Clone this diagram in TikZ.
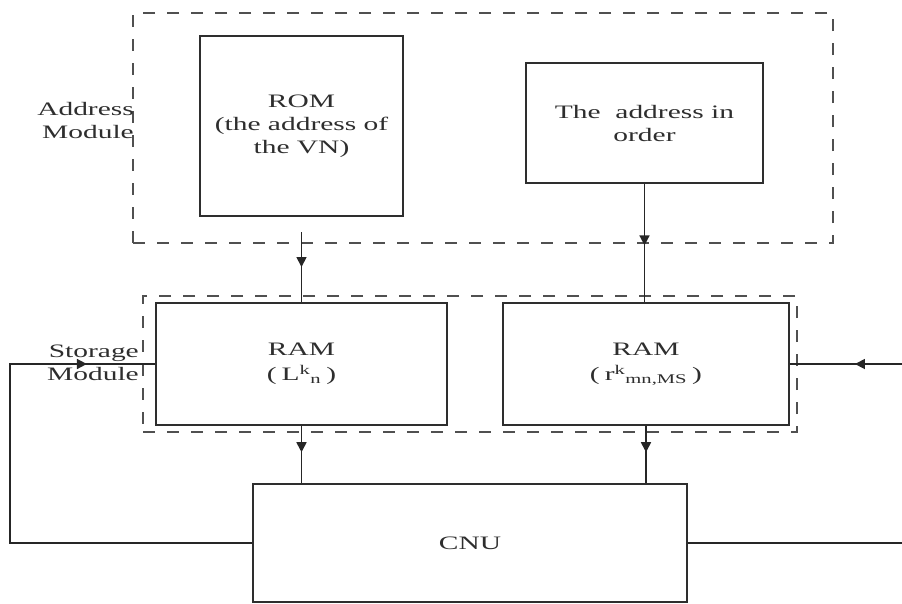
\documentclass[tikz,border=0pt]{standalone}
\usepackage{fontspec}
\setmainfont{Liberation Serif}[FakeStretch=1.55]
\usetikzlibrary{arrows.meta,decorations.markings}

\definecolor{ink}{HTML}{2E2E2E}
\definecolor{dashgray}{HTML}{505050}

\tikzset{
  block/.style={draw=ink, line width=1.9pt, fill=white, inner sep=0pt,
    align=center, text=ink, font=\fontsize{19}{23}\selectfont},
  group/.style={draw=dashgray, line width=2pt, dash pattern=on 12pt off 12pt,
    inner sep=0pt},
  wire/.style={draw=black!85, line width=1.7pt},
  midarrow/.style={postaction={decorate, decoration={markings,
    mark=at position #1 with {\arrow{Triangle[length=10pt,width=10pt]}}}}},
  caption/.style={inner sep=0pt, align=right, text=ink,
    font=\fontsize{19}{23}\selectfont, anchor=east}
}

\begin{document}
\begin{tikzpicture}[x=1pt, y=-1pt]
\useasboundingbox (0,0) rectangle (902,603);

% module frames
\node[group, minimum width=700pt, minimum height=230pt] (addrmod) at (483,128) {};
\node[group, minimum width=654pt, minimum height=136pt] (storemod) at (470,364) {};
\node[caption] (addrlbl) at (134,120) {Address\\Module};
\node[caption] (storelbl) at (139,363) {Storage\\Module};

% blocks
\node[block, minimum width=203pt, minimum height=180pt] (rom) at (301.5,126)
  {ROM\\(the address of\\the VN)};
\node[block, minimum width=237pt, minimum height=120pt] (order) at (644.5,123)
  {The~ address in\\order};
\node[block, minimum width=291pt, minimum height=122pt] (ramL) at (301.5,364)
  {RAM\\[2pt](\hspace{5pt}L\textsuperscript{k}\textsubscript{n}\hspace{5pt})};
\node[block, minimum width=286pt, minimum height=122pt] (ramR) at (646,364)
  {RAM\\[2pt](\hspace{5pt}r\textsuperscript{k}\textsubscript{mn,MS}\hspace{5pt})};
\node[block, minimum width=434pt, minimum height=118pt] (cnu) at (470,543) {CNU};

% connectors
\coordinate (romout) at (301.5,232);
\coordinate (leftrail) at (10,0);
\coordinate (rightedge) at (902,0);

\draw[wire, midarrow=0.5] (romout) -- (ramL.north);
\draw[wire, midarrow=0.52] (order.south) -- (order.south |- ramR.north);
\draw[wire, midarrow=0.46] (ramL.south) -- (ramL.south |- cnu.north);
\draw[wire, midarrow=0.46] (ramR.south) -- (ramR.south |- cnu.north);

\draw[wire] (cnu.west) -| (ramL.west -| leftrail) -- (ramL.west);
\draw[wire, midarrow=0.53] (ramL.west -| leftrail) -- (ramL.west);
\draw[wire, midarrow=0.42] (ramR.east -| rightedge) -- (ramR.east);
\draw[wire] (cnu.east) -- (cnu.east -| rightedge);
\end{tikzpicture}
\end{document}
